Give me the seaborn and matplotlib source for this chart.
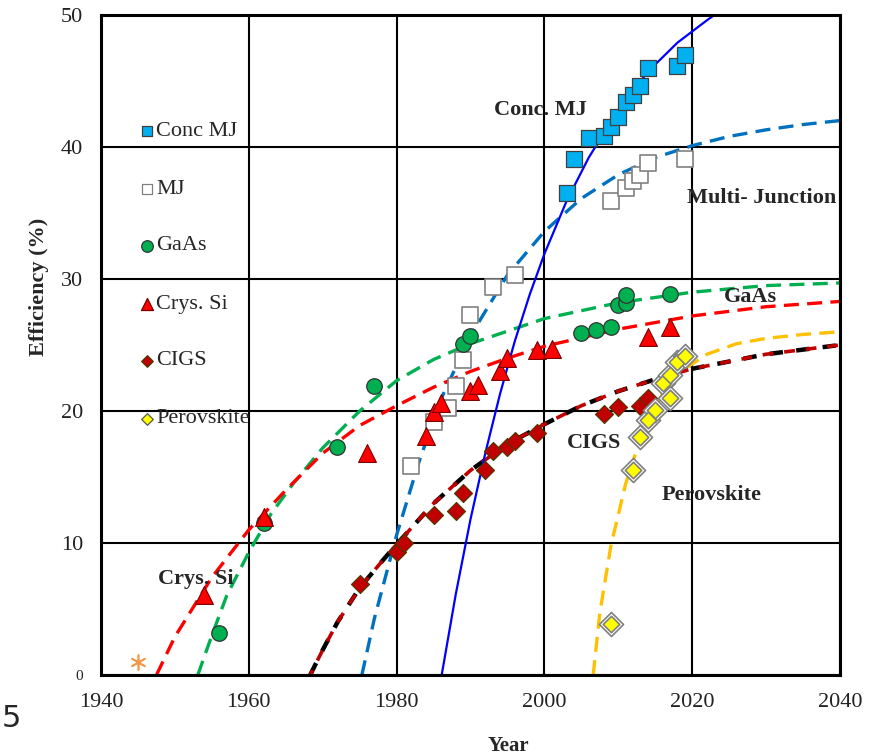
import numpy as np
import pandas as pd
import matplotlib.pyplot as plt
import seaborn as sns

# Record efficiencies
conc_mj_year = [2003, 2004, 2006, 2008, 2009, 2010, 2011, 2012, 2013, 2014, 2018, 2019]
conc_mj_eff = [36.5, 39.1, 40.7, 40.8, 41.5, 42.3, 43.4, 43.9, 44.6, 46.0, 46.1, 47.0]

mj_year = [1982, 1985, 1987, 1988, 1989, 1990, 1993, 1996, 2009, 2011, 2012, 2013, 2014, 2019]
mj_eff = [15.8, 19.2, 20.2, 21.9, 23.9, 27.3, 29.4, 30.3, 35.9, 36.9, 37.4, 37.9, 38.8, 39.1]

gaas_year = [1956, 1962, 1972, 1977, 1989, 1990, 2005, 2007, 2009, 2010, 2011, 2011, 2017]
gaas_eff = [3.2, 11.5, 17.3, 21.9, 25.1, 25.7, 25.9, 26.1, 26.4, 28.0, 28.2, 28.8, 28.9]

si_year = [1954, 1962, 1976, 1984, 1985, 1986, 1990, 1991, 1994, 1995, 1999, 2001, 2014, 2017]
si_eff = [6.1, 12.0, 16.8, 18.1, 19.9, 20.6, 21.5, 22.0, 23.0, 24.0, 24.6, 24.7, 25.6, 26.4]

cigs_year = [1975, 1980, 1981, 1985, 1988, 1989, 1992, 1993, 1995, 1996, 1999, 2008, 2010, 2013, 2014]
cigs_eff = [6.9, 9.3, 10.0, 12.1, 12.4, 13.8, 15.5, 17.0, 17.3, 17.7, 18.3, 19.8, 20.3, 20.4, 21.0]

perov_year = [2009, 2012, 2013, 2014, 2015, 2016, 2017, 2017, 2018, 2019]
perov_eff = [3.9, 15.5, 18.0, 19.3, 20.1, 22.1, 21.0, 22.7, 23.7, 24.2]

other_year = [1945]
other_eff = [1.0]

# Trend curves
conc_mj_fit_year = [1986.1, 1988, 1990, 1992, 1994, 1996, 1998, 2000, 2003, 2006, 2010, 2014, 2018, 2022, 2024, 2026]
conc_mj_fit_eff = [0, 6.1, 11.8, 16.8, 21.3, 25.3, 28.8, 31.9, 35.9, 39.2, 42.8, 45.7, 47.9, 49.6, 50.4, 51.0]

mj_fit_year = [1975.3, 1977, 1980, 1983, 1986, 1990, 1995, 2000, 2005, 2010, 2015, 2020, 2025, 2030, 2035, 2040]
mj_fit_eff = [0, 4.3, 10.6, 16.1, 20.9, 25.7, 30.3, 33.6, 36.1, 37.9, 39.2, 40.1, 40.8, 41.3, 41.7, 42.0]

gaas_fit_year = [1953.1, 1955, 1957, 1960, 1963, 1966, 1970, 1975, 1980, 1985, 1990, 2000, 2010, 2020, 2030, 2040]
gaas_fit_eff = [0, 3.0, 6.0, 9.3, 12.2, 14.5, 17.2, 20.0, 22.3, 23.9, 25.1, 27.0, 28.2, 29.0, 29.5, 29.7]

si_fit_year = [1947.5, 1950, 1955, 1960, 1965, 1970, 1975, 1980, 1985, 1990, 1995, 2000, 2010, 2020, 2030, 2040]
si_fit_eff = [0, 2.9, 7.4, 11.0, 14.0, 16.8, 18.9, 20.4, 21.8, 23.0, 24.0, 24.9, 26.2, 27.2, 27.9, 28.3]

cigs_fit_year = [1968.3, 1970, 1972, 1975, 1978, 1980, 1985, 1990, 1995, 2000, 2005, 2010, 2015, 2020, 2030, 2040]
cigs_fit_eff = [0, 1.9, 4.0, 6.6, 8.6, 9.9, 13.0, 15.5, 17.5, 19.0, 20.4, 21.5, 22.4, 23.2, 24.3, 25.0]

perov_fit_year = [2006.6, 2007.5, 2009, 2011, 2013, 2016, 2019, 2022, 2026, 2030, 2035, 2040]
perov_fit_eff = [0, 4.7, 9.8, 14.5, 17.9, 21.3, 23.2, 24.3, 25.1, 25.5, 25.8, 26.0]

legend_names = ['Conc MJ', 'MJ', 'GaAs', 'Crys. Si', 'CIGS', 'Perovskite']
legend_eff = [41.2, 36.8, 32.5, 28.1, 23.8, 19.4]

sns.set_theme(style='white')
plt.rcParams['font.family'] = ['Liberation Serif', 'DejaVu Serif']

fig, ax = plt.subplots(figsize=(8.76, 7.56), dpi=100)
fig.subplots_adjust(left=0.1153, right=0.9589, bottom=0.1071, top=0.9802)

dash = (0, (4.5, 2.5))
sns.lineplot(x=mj_fit_year, y=mj_fit_eff, ax=ax, color='#0070C0', lw=2.4, linestyle=dash, zorder=2)
sns.lineplot(x=gaas_fit_year, y=gaas_fit_eff, ax=ax, color='#00B050', lw=2.4, linestyle=dash, zorder=2)
sns.lineplot(x=si_fit_year, y=si_fit_eff, ax=ax, color='#FF0000', lw=2.4, linestyle=dash, zorder=2)
sns.lineplot(x=perov_fit_year, y=perov_fit_eff, ax=ax, color='#FFC000', lw=2.4, linestyle=dash, zorder=2)
sns.lineplot(x=cigs_fit_year, y=cigs_fit_eff, ax=ax, color='black', lw=3.2, linestyle=(0, (3, 3)), zorder=2)
sns.lineplot(x=cigs_fit_year, y=cigs_fit_eff, ax=ax, color='#C00000', lw=2.6, linestyle=(1.5, (3, 3)), zorder=2)
sns.lineplot(x=conc_mj_fit_year, y=conc_mj_fit_eff, ax=ax, color='#0000FF', lw=1.6, zorder=2)

# data markers
sns.scatterplot(x=mj_year, y=mj_eff, ax=ax, marker='s', s=120, color='white', edgecolor='#808080', linewidth=1.2, zorder=4)
sns.scatterplot(x=gaas_year, y=gaas_eff, ax=ax, marker='o', s=125, color='#00B050', edgecolor='#333333', linewidth=0.9, zorder=4)
sns.scatterplot(x=si_year, y=si_eff, ax=ax, marker='^', s=165, color='#FF0000', edgecolor='#7a0000', linewidth=0.8, zorder=4)
sns.scatterplot(x=cigs_year, y=cigs_eff, ax=ax, marker='D', s=85, color='#C00000', edgecolor='#4a3a00', linewidth=0.8, zorder=4)
sns.scatterplot(x=perov_year, y=perov_eff, ax=ax, marker='D', s=150, color='white', edgecolor='#808080', linewidth=1.2, zorder=4)
sns.scatterplot(x=perov_year, y=perov_eff, ax=ax, marker='D', s=70, color='#FFFF00', edgecolor='#808080', linewidth=1.2, zorder=5)
sns.scatterplot(x=conc_mj_year, y=conc_mj_eff, ax=ax, marker='s', s=125, color='#00B0F0', edgecolor='#404040', linewidth=0.9, zorder=5)
sns.scatterplot(x=other_year, y=other_eff, ax=ax, marker=(6, 2, 0), s=110, color='#F79646', linewidth=1.2, zorder=4)

# in-plot legend column
leg_x = 1946.2
leg_styles = [('s', '#00B0F0', '#404040', 60), ('s', 'white', '#808080', 60),
              ('o', '#00B050', '#333333', 70), ('^', '#FF0000', '#7a0000', 75),
              ('D', '#C00000', '#4a3a00', 35), ('D', '#FFFF00', '#555555', 35)]
for name, yv, (mk, fc, ec, sz) in zip(legend_names, legend_eff, leg_styles):
    sns.scatterplot(x=[leg_x], y=[yv], ax=ax, marker=mk, s=sz, color=fc, edgecolor=ec, linewidth=0.9, zorder=5)
    ax.text(leg_x + 1.3, yv, name, fontsize=16, va='center', ha='left', zorder=6)

# curve labels
lab = dict(fontsize=16, fontweight='bold', va='center', ha='left', zorder=6)
ax.text(1993.2, 42.8, 'Conc. MJ', **lab)
ax.text(2019.3, 36.1, 'Multi- Junction', **lab)
ax.text(2024.3, 28.6, 'GaAs', **lab)
ax.text(2003.0, 17.6, 'CIGS', **lab)
ax.text(2015.9, 13.6, 'Perovskite', **lab)
ax.text(1947.7, 7.3, 'Crys. Si', **lab)

ax.set_xlim(1940, 2040)
ax.set_ylim(0, 50)
ax.set_xticks(range(1940, 2041, 20))
ax.set_yticks(range(0, 51, 10))
ax.grid(True, color='black', lw=1.5)
ax.set_axisbelow(True)
for sp in ax.spines.values():
    sp.set_color('black')
    sp.set_linewidth(2.2)
ax.tick_params(length=0, labelsize=16, pad=13, colors='#222222')
ax.get_yticklabels()[0].set_fontsize(11)

ax.set_xlabel('Year', fontsize=15, fontweight='bold')
ax.set_ylabel('Efficiency (%)', fontsize=16, fontweight='bold')
ax.xaxis.set_label_coords(0.551, -0.093)
ax.yaxis.set_label_coords(-0.07, 0.588)

fig.text(0.002, 0.05, '5', fontsize=22, family='DejaVu Sans', ha='left', va='center')

plt.savefig('out.png', dpi=100)
plt.close()
